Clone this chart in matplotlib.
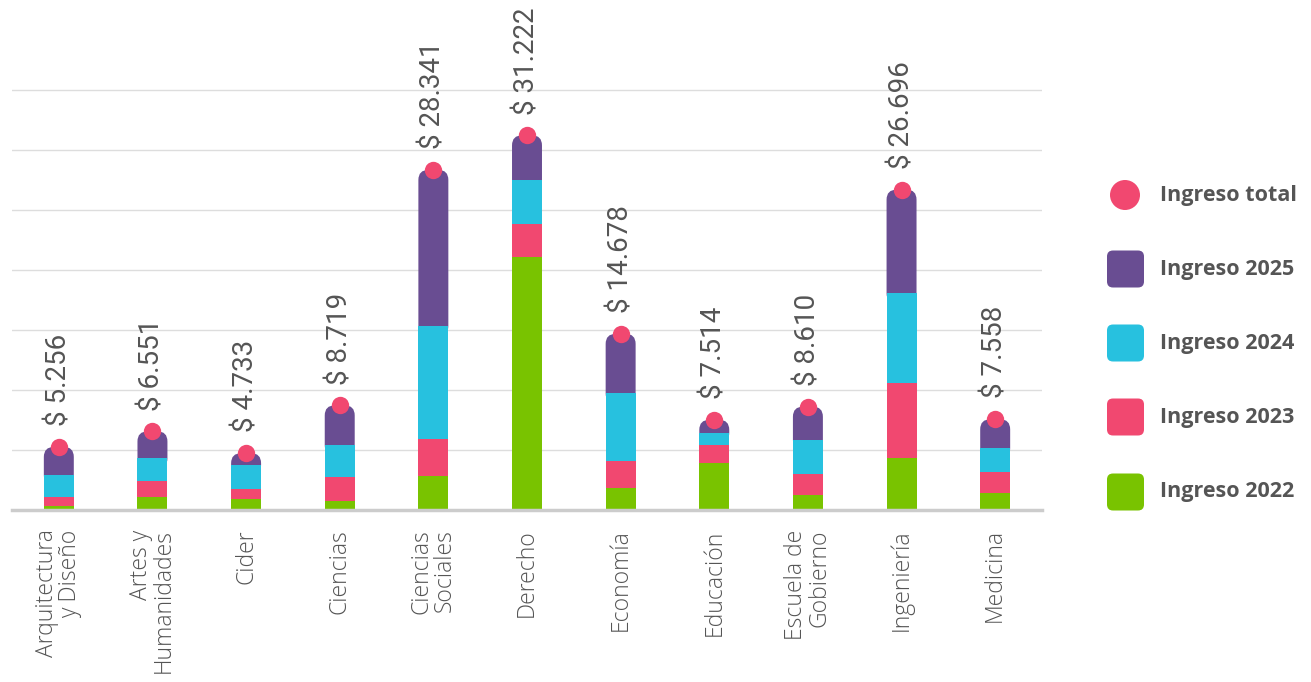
import matplotlib
matplotlib.use("Agg")
import matplotlib.pyplot as plt
from matplotlib.patches import FancyBboxPatch, Circle
import numpy as np

categories = ["Arquitectura\ny Diseño", "Artes y\nHumanidades", "Cider", "Ciencias",
              "Ciencias\nSociales", "Derecho", "Economía", "Educación",
              "Escuela de\nGobierno", "Ingeniería", "Medicina"]
total = [5256, 6551, 4733, 8719, 28341, 31222, 14678, 7514, 8610, 26696, 7558]
ing2022 = [360, 1060, 917, 775, 2833, 21083, 1861, 3889, 1222, 4306, 1389]
ing2023 = [700, 1380, 833, 1975, 3083, 2778, 2222, 1528, 1806, 6306, 1806]
ing2024 = [1860, 1870, 2000, 2667, 9417, 3667, 5633, 1028, 2806, 7444, 1944]
ing2025 = [t - a - b - c for t, a, b, c in zip(total, ing2022, ing2023, ing2024)]
value_labels = ["$ " + f"{v:,}".replace(",", ".") for v in total]
legend_labels = ["Ingreso total", "Ingreso 2025", "Ingreso 2024", "Ingreso 2023", "Ingreso 2022"]

C_GREEN = "#79C300"
C_PINK = "#F14870"
C_CYAN = "#27C1DF"
C_PURPLE = "#694D92"
C_TEXT = "#555555"

W, H = 1311, 682
fig = plt.figure(figsize=(W / 100, H / 100), dpi=100)
ax_left, ax_right, ax_bot, ax_top = 12, 1042, 510, 0
ax = fig.add_axes([ax_left / W, (H - ax_bot) / H, (ax_right - ax_left) / W, (ax_bot - ax_top) / H])

n = len(categories)
x = np.arange(n)
ymax = 42500
ax.set_xlim(-0.5, n - 0.5)
ax.set_ylim(0, ymax)

bw = 0.32
px_x = (ax_right - ax_left) / n
px_y = (ax_bot - ax_top) / ymax
r_px = 10
rx = r_px / px_x
ry = r_px / px_y
aspect = ry / rx

b0 = np.zeros(n)
for vals, col in [(ing2022, C_GREEN), (ing2023, C_PINK), (ing2024, C_CYAN)]:
    ax.bar(x, vals, bw, bottom=b0, color=col, edgecolor="none", zorder=4)
    b0 = b0 + np.array(vals)

# top segment (2025) with rounded top corners; its lower part tucks under the 2024 segment
for xi, base, v in zip(x, b0, ing2025):
    bottom = base - ry
    p = FancyBboxPatch((xi - bw / 2, bottom), bw, base + v - bottom,
                       boxstyle=f"round,pad=0,rounding_size={rx}",
                       mutation_aspect=aspect, facecolor=C_PURPLE,
                       edgecolor="none", zorder=3)
    ax.add_patch(p)

ax.plot(x, total, "o", color=C_PINK, markersize=12.5, markeredgewidth=0, zorder=6, clip_on=False)

for xi, t, lab in zip(x, total, value_labels):
    ax.annotate(lab, (xi, t), xytext=(0, 15), textcoords="offset points",
                rotation=90, ha="center", va="bottom", fontsize=20,
                family="Roboto", color=C_TEXT, zorder=7)

ax.set_yticks(np.arange(0, 35001, 5000))
ax.yaxis.grid(True, color="#dddddd", linewidth=1, zorder=0)
ax.set_axisbelow(True)
ax.tick_params(axis="y", left=False, labelleft=False)
ax.set_xticks(x)
ax.set_xticklabels(categories, rotation=90, fontsize=16.5, family="Open Sans",
                   fontweight="light", color="#555555", linespacing=0.95)
for lbl in ax.get_xticklabels():
    lbl.set_multialignment("right")
ax.tick_params(axis="x", length=0, pad=14)
for s in ["top", "right", "left"]:
    ax.spines[s].set_visible(False)
ax.spines["bottom"].set_color("#cccccc")
ax.spines["bottom"].set_linewidth(2.5)
ax.spines["bottom"].set_zorder(5)

# legend drawn in pixel coordinates
lg = fig.add_axes([0, 0, 1, 1])
lg.set_xlim(0, W)
lg.set_ylim(H, 0)
lg.axis("off")
lg.patch.set_alpha(0)
leg_y = [195, 269, 343, 417, 492]
leg_cols = [C_PINK, C_PURPLE, C_CYAN, C_PINK, C_GREEN]
for i, (yy, col, lab) in enumerate(zip(leg_y, leg_cols, legend_labels)):
    if i == 0:
        lg.add_patch(Circle((1125, yy), 15, facecolor=col, edgecolor="none"))
    else:
        lg.add_patch(FancyBboxPatch((1107, yy - 18.5), 37, 37,
                                    boxstyle="round,pad=0,rounding_size=6",
                                    facecolor=col, edgecolor="none"))
    lg.text(1160, yy, lab, ha="left", va="center", fontsize=15.5,
            family="Open Sans", fontweight="bold", color=C_TEXT)

fig.savefig("out.png", dpi=100)
